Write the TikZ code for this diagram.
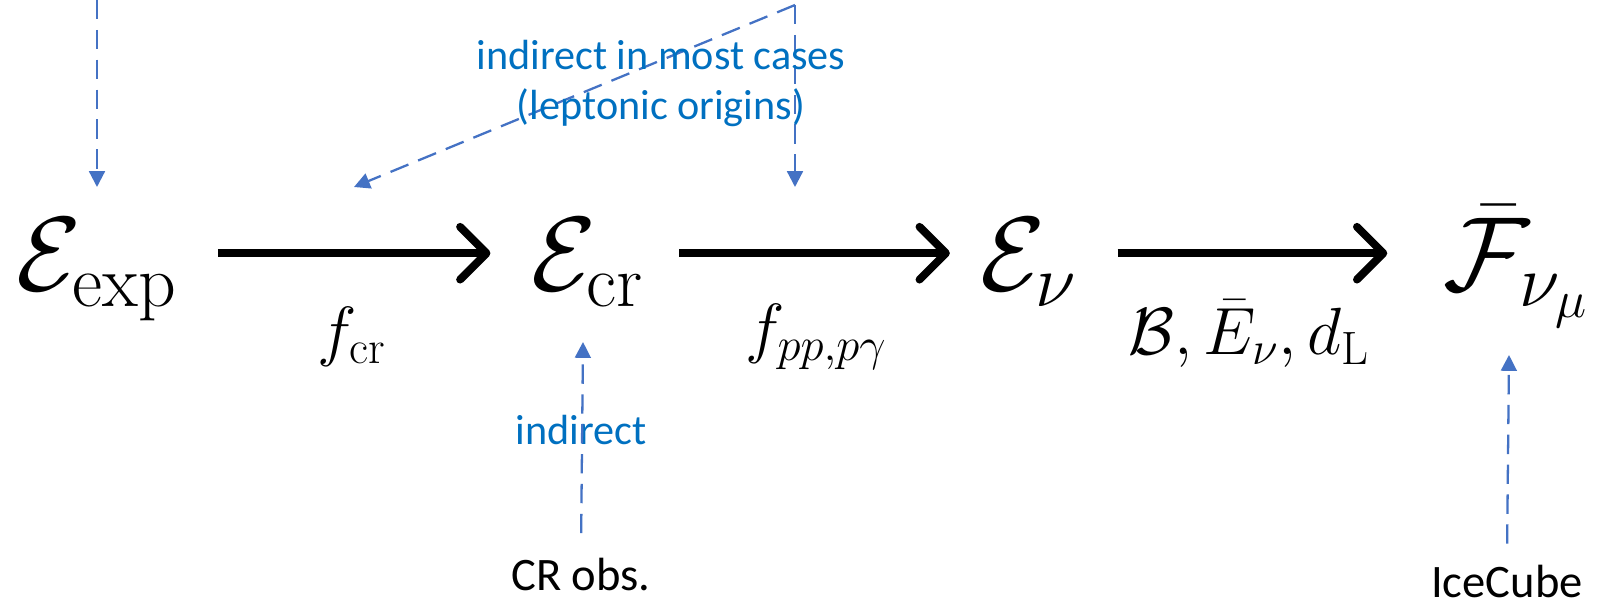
\RequirePackage{fix-cm}
\documentclass[tikz,border=0pt]{standalone}
\usepackage{amsmath}
\usepackage{fontspec}
\newfontfamily\notefont{Carlito}
\usetikzlibrary{arrows.meta}
\definecolor{linkblue}{HTML}{4472C4}
\definecolor{noteblue}{HTML}{0070C0}

\tikzset{
	quantity/.style={inner sep=0pt, anchor=base, font=\fontsize{60}{72}\selectfont},
	factor/.style={inner sep=0pt, font=\fontsize{38}{45}\selectfont},
	flow/.style={line width=4.5pt, -{Straight Barb[length=15pt,width=30pt,round]}, shorten <=23pt, shorten >=23pt},
	hint/.style={linkblue, line width=1.3pt, dash pattern=on 11pt off 6pt, -{Triangle[length=9pt,width=9pt]}},
	note/.style={noteblue, align=center, font=\notefont\fontsize{24}{29}\selectfont},
	source/.style={font=\notefont\fontsize{26.5}{32}\selectfont}
}

\begin{document}
\begin{tikzpicture}
	\useasboundingbox (0,0) rectangle (31.98,12.06);
	% chain of quantities
	\node[quantity] (Eexp) at (1.94,6.24) {$\mathcal{E}_{\mathrm{exp}}$};
	\node[quantity] (Ecr) at (11.75,6.24) {$\mathcal{E}_{\mathrm{cr}}$};
	\node[quantity] (Enu) at (20.57,6.24) {$\mathcal{E}_{\nu}$};
	\node[quantity] (Fnu) at (30.32,6.24) {$\bar{\mathcal{F}}_{\nu_\mu}$};
	\draw[flow] ([yshift=21.5pt]Eexp.base east) -- ([yshift=21.5pt]Ecr.base west);
	\draw[flow, shorten <=20pt, shorten >=17pt] ([yshift=21.5pt]Ecr.base east) -- ([yshift=21.5pt]Enu.base west);
	\draw[flow, shorten >=32pt] ([yshift=21.5pt]Enu.base east) -- ([yshift=21.5pt]Fnu.base west);
	\node[factor] (fcr) at (7.04,5.32) {$f_{\mathrm{cr}}$};
	\node[factor] (fpp) at (16.32,5.32) {$f_{pp,p\gamma}$};
	\node[factor] (fprop) at (24.98,5.38) {$\mathcal{B},\bar{E}_\nu,d_{\mathrm{L}}$};

	% constraints
	\coordinate (expsrc) at (1.94,12.06);
	\coordinate (expin) at (1.94,8.32);
	\coordinate (ppsrc) at (15.9,11.96);
	\coordinate (ppin) at (15.9,8.32);
	\coordinate (crin) at (7.08,8.32);
	\coordinate (crobsin) at (11.66,5.22);
	\coordinate (icein) at (30.18,4.96);
	\draw[hint] (expsrc) -- (expin);
	\draw[hint] (ppsrc) -- (ppin);
	\draw[hint] (ppsrc) -- (crin);
	\node[note] (leptonic) at (13.22,10.39) {indirect in most cases\\(leptonic origins)};
	\node[note] (crnote) at (11.62,3.46) {indirect};
	\node[source] (crobs) at (11.62,0.56) {CR obs.};
	\node[source] (icecube) at (30.14,0.42) {IceCube};
	\draw[hint, shorten <=11pt] (crobs.north) -- (crobsin);
	\draw[hint, shorten <=9pt] (icecube.north) -- (icein);
\end{tikzpicture}
\end{document}
